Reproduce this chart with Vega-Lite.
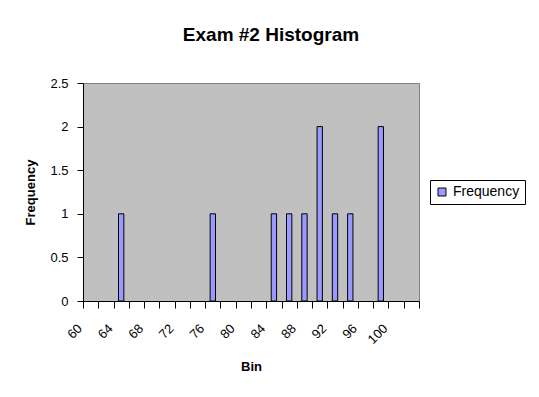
{
  "$schema": "https://vega.github.io/schema/vega-lite/v6.json",
  "width": 336,
  "height": 218,
  "autosize": {"type": "none"},
  "padding": {"left": 83, "top": 83, "right": 120, "bottom": 96},
  "background": "white",
  "title": {
    "text": "Exam #2 Histogram",
    "font": "Liberation Sans",
    "fontSize": 19,
    "fontWeight": "bold",
    "color": "black",
    "anchor": "middle",
    "dx": 20,
    "offset": 32
  },
  "data": {
    "values": [
      {"bin": "60", "freq": 0}, {"bin": "62", "freq": 0}, {"bin": "64", "freq": 1},
      {"bin": "66", "freq": 0}, {"bin": "68", "freq": 0}, {"bin": "70", "freq": 0},
      {"bin": "72", "freq": 0}, {"bin": "74", "freq": 0}, {"bin": "76", "freq": 1},
      {"bin": "78", "freq": 0}, {"bin": "80", "freq": 0}, {"bin": "82", "freq": 0},
      {"bin": "84", "freq": 1}, {"bin": "86", "freq": 1}, {"bin": "88", "freq": 1},
      {"bin": "90", "freq": 2}, {"bin": "92", "freq": 1}, {"bin": "94", "freq": 1},
      {"bin": "96", "freq": 0}, {"bin": "98", "freq": 2}, {"bin": "100", "freq": 0},
      {"bin": "More", "freq": 0}
    ]
  },
  "mark": {"type": "bar", "width": {"band": 0.35}, "stroke": "black", "strokeWidth": 1},
  "encoding": {
    "x": {
      "field": "bin",
      "type": "ordinal",
      "sort": null,
      "scale": {"paddingInner": 0, "paddingOuter": 0},
      "axis": {
        "title": "Bin",
        "titleFont": "Liberation Sans",
        "titleFontSize": 13,
        "titleFontWeight": "bold",
        "titleColor": "black",
        "titlePadding": 14,
        "tickBand": "extent",
        "tickSize": 7,
        "tickColor": "black",
        "domainColor": "black",
        "labelAngle": -45,
        "labelAlign": "right",
        "labelBaseline": "middle",
        "labelPadding": 18,
        "labelOffset": -11,
        "labelFont": "Liberation Sans",
        "labelFontSize": 13,
        "labelColor": "black",
        "labelExpr": "(toNumber(datum.value) - 60) % 4 == 0 ? datum.value : ''"
      }
    },
    "y": {
      "field": "freq",
      "type": "quantitative",
      "scale": {"domain": [0, 2.5]},
      "axis": {
        "title": "Frequency",
        "titleFont": "Liberation Sans",
        "titleFontSize": 13,
        "titleFontWeight": "bold",
        "titleColor": "black",
        "titlePadding": 12,
        "values": [0, 0.5, 1, 1.5, 2, 2.5],
        "format": "~g",
        "grid": false,
        "tickSize": 6,
        "tickColor": "black",
        "domainColor": "black",
        "labelPadding": 9,
        "labelFont": "Liberation Sans",
        "labelFontSize": 13,
        "labelColor": "black",
        "labelFlush": false
      }
    },
    "strokeOpacity": {
      "condition": {"test": "datum.freq == 0", "value": 0},
      "value": 1
    },
    "color": {
      "datum": "Frequency",
      "type": "nominal",
      "scale": {"range": ["#9999FF"]},
      "legend": {
        "title": null,
        "orient": "none",
        "legendX": 347,
        "legendY": 97,
        "strokeColor": "black",
        "padding": 5,
        "symbolType": "square",
        "symbolSize": 64,
        "symbolStrokeColor": "black",
        "symbolStrokeWidth": 1,
        "symbolOpacity": 1,
        "labelFont": "Liberation Sans",
        "labelFontSize": 14,
        "labelColor": "black"
      }
    }
  },
  "config": {
    "view": {"fill": "#C0C0C0", "stroke": "#808080", "strokeWidth": 1},
    "axis": {"domainWidth": 1, "tickWidth": 1}
  }
}
